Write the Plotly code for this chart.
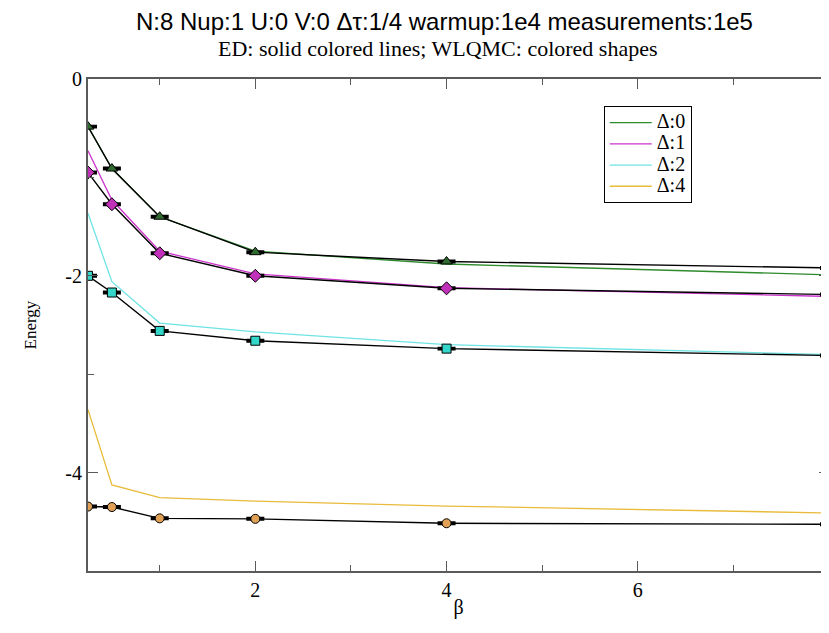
import plotly.graph_objects as go

beta = [0.25, 0.5, 1, 2, 4, 8]

# ED (exact diagonalization) energies
ed_d0 = [-0.48, -0.91, -1.40, -1.75, -1.88, -1.99]
ed_d1 = [-0.73, -1.23, -1.75, -1.98, -2.12, -2.21]
ed_d2 = [-1.365, -2.06, -2.48, -2.57, -2.70, -2.80]
ed_d4 = [-3.36, -4.125, -4.255, -4.29, -4.34, -4.41]

# WLQMC energies
qmc_d0 = [-0.484, -0.91, -1.40, -1.76, -1.855, -1.92]
qmc_d1 = [-0.951, -1.273, -1.771, -2.00, -2.127, -2.19]
qmc_d2 = [-2.00, -2.17, -2.56, -2.66, -2.74, -2.81]
qmc_d4 = [-4.345, -4.35, -4.465, -4.47, -4.515, -4.525]
qmc_err = [0.01, 0.01, 0.01, 0.01, 0.01, 0.01]

legend_names = ["Δ:0", "Δ:1", "Δ:2", "Δ:4"]
x_ticks = [2, 4, 6, 8]
y_ticks = [0, -2, -4]

ed_series = [ed_d0, ed_d1, ed_d2, ed_d4]
qmc_series = [qmc_d0, qmc_d1, qmc_d2, qmc_d4]
ed_colors = ["#2e8b2e", "#cc33cc", "#6fe3e3", "#e8bb3a"]
mk_colors = ["#2f6a2f", "#c030b8", "#33d6c8", "#e0a055"]
mk_symbols = ["triangle-up", "diamond", "square", "circle"]
mk_sizes = [10, 10, 9, 9]

serif = "Liberation Serif"

fig = go.Figure()
for name, ys, c in zip(legend_names, ed_series, ed_colors):
    fig.add_trace(go.Scatter(x=beta, y=ys, mode="lines",
                             name='<span style="font-size:20px">' + name + '</span>',
                             line=dict(color=c, width=1.3)))
for ys, c, s, sz in zip(qmc_series, mk_colors, mk_symbols, mk_sizes):
    fig.add_trace(go.Scatter(
        x=beta, y=ys, mode="lines+markers", showlegend=False,
        line=dict(color="black", width=1.4),
        marker=dict(symbol=s, size=sz, color=c, line=dict(color="black", width=1)),
        error_y=dict(type="data", array=qmc_err, visible=True, color="black",
                     thickness=2, width=9)))

axis_common = dict(showgrid=False, zeroline=False, showline=True, mirror="allticks",
                   linecolor="#5a5a5a", linewidth=2, ticks="inside", ticklen=10,
                   tickwidth=1.2, tickcolor="#5a5a5a",
                   tickfont=dict(family=serif, size=20, color="black"))

fig.update_xaxes(range=[0.25, 8], tickvals=x_ticks, ticktext=[str(v) for v in x_ticks],
                 minor=dict(dtick=1, tick0=0, ticks="inside", ticklen=6, tickcolor="#5a5a5a"),
                 title=dict(text="β", font=dict(family=serif, size=20, color="black"), standoff=0),
                 **axis_common)
fig.update_yaxes(range=[-5, 0], tickvals=y_ticks, ticktext=[str(v) for v in y_ticks],
                 minor=dict(dtick=1, tick0=0, ticks="inside", ticklen=6, tickcolor="#5a5a5a"),
                 title=dict(text="Energy", font=dict(family=serif, size=17, color="black"), standoff=24),
                 **axis_common)

fig.update_layout(
    width=829, height=633,
    margin=dict(l=80, r=3, t=71, b=70),
    plot_bgcolor="white", paper_bgcolor="white",
    font=dict(family=serif, color="black"),
    legend=dict(x=0.696, y=0.945, xanchor="left", yanchor="top",
                bgcolor="white", bordercolor="black", borderwidth=1,
                font=dict(family=serif, size=14, color="black"),
                tracegroupgap=0, itemwidth=42),
    annotations=[
        dict(text="N:8 Nup:1 U:0 V:0 Δτ:1/4 warmup:1e4 measurements:1e5",
             xref="paper", yref="paper", x=0.481, y=1.117, xanchor="center", yanchor="middle",
             showarrow=False, font=dict(family="Liberation Sans", size=24, color="black")),
        dict(text="ED: solid colored lines; WLQMC: colored shapes",
             xref="paper", yref="paper", x=0.472, y=1.062, xanchor="center", yanchor="middle",
             showarrow=False, font=dict(family=serif, size=22, color="black")),
    ],
)

fig.write_html("out.html")
